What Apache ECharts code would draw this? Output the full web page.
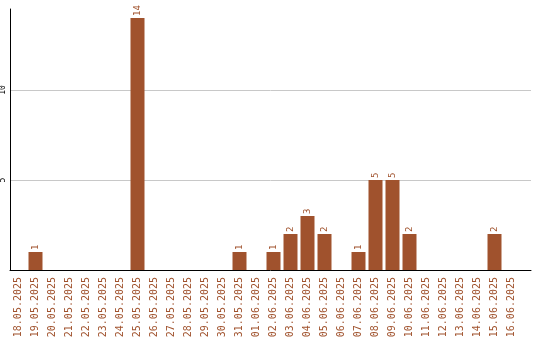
<!DOCTYPE html>
<html><head><meta charset="utf-8">
<script src="https://cdn.jsdelivr.net/npm/echarts@6/dist/echarts.min.js"></script>
<style>html,body{margin:0;padding:0;background:#fff}#c{width:540px;height:340px}</style>
</head><body><div id="c"></div>
<script>
const categories = ["18.05.2025","19.05.2025","20.05.2025","21.05.2025","22.05.2025","23.05.2025","24.05.2025","25.05.2025","26.05.2025","27.05.2025","28.05.2025","29.05.2025","30.05.2025","31.05.2025","01.06.2025","02.06.2025","03.06.2025","04.06.2025","05.06.2025","06.06.2025","07.06.2025","08.06.2025","09.06.2025","10.06.2025","11.06.2025","12.06.2025","13.06.2025","14.06.2025","15.06.2025","16.06.2025"];
const values = [0,1,0,0,0,0,0,14,0,0,0,0,0,1,0,1,2,3,2,0,1,5,5,2,0,0,0,0,2,0];
const yTicks = [5,10];

const C = '#A0522D';
const FONT = '"DejaVu Sans Mono", monospace';
const chart = echarts.init(document.getElementById('c'), null, {renderer:'canvas'});
chart.setOption({
  animation:false,
  grid:{left:10,right:9,top:9,bottom:70,containLabel:false,outerBoundsMode:'none'},
  xAxis:{
    type:'value', min:-0.5, max:30.147,
    axisLine:{show:true,onZero:false,lineStyle:{color:'#000',width:1}},
    axisTick:{show:false},
    splitLine:{show:false},
    axisLabel:{
      customValues: categories.map((_,i)=>i),
      formatter:v=>categories[v]||'',
      rotate:90, margin:7, color:C, fontSize:10, fontFamily:FONT
    }
  },
  yAxis:{
    type:'value', min:0, max:14.5, interval:5,
    axisLine:{show:true,onZero:false,lineStyle:{color:'#000',width:1}},
    axisTick:{show:false},
    splitLine:{show:true,showMinLine:false,showMaxLine:false,lineStyle:{color:'#c8c8c8',width:1}},
    axisLabel:{customValues:yTicks,rotate:90,margin:3,color:'#000',fontSize:8,fontFamily:FONT}
  },
  series:[{
    type:'bar',
    data:values.map((v,i)=>[i,v]),
    barWidth:14,
    itemStyle:{color:C},
    label:{show:true,position:'top',rotate:90,align:'left',verticalAlign:'middle',distance:2,
      color:C,fontSize:9,fontFamily:FONT,
      formatter:p=>p.value[1]?String(p.value[1]):''}
  }]
});
</script></body></html>
